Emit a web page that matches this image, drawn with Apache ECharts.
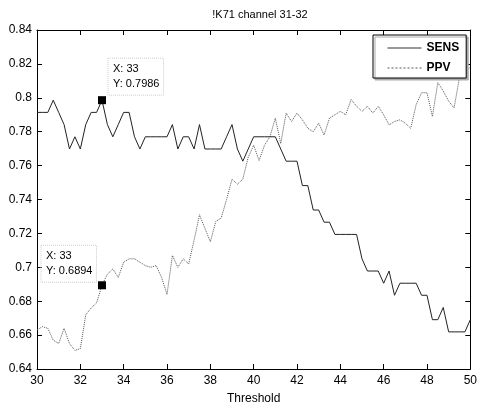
<!DOCTYPE html>
<html>
<head>
<meta charset="utf-8">
<script src="https://cdn.jsdelivr.net/npm/echarts@6/dist/echarts.min.js"></script>
<style>
  html, body { margin: 0; background: #fff; }
  #chart { width: 480px; height: 410px; }
</style>
</head>
<body>
<div id="chart"></div>
<script>
// threshold steps (x)
const thresholds = [
  30, 30.25, 30.5, 30.75, 31, 31.25, 31.5, 31.75, 32, 32.25, 32.5, 32.75,
  33, 33.25, 33.5, 33.75, 34, 34.25, 34.5, 34.75, 35, 35.25, 35.5, 35.75,
  36, 36.25, 36.5, 36.75, 37, 37.25, 37.5, 37.75, 38, 38.25, 38.5, 38.75,
  39, 39.25, 39.5, 39.75, 40, 40.25, 40.5, 40.75, 41, 41.25, 41.5, 41.75,
  42, 42.25, 42.5, 42.75, 43, 43.25, 43.5, 43.75, 44, 44.25, 44.5, 44.75,
  45, 45.25, 45.5, 45.75, 46, 46.25, 46.5, 46.75, 47, 47.25, 47.5, 47.75,
  48, 48.25, 48.5, 48.75, 49, 49.25, 49.5, 49.75, 50
];

const sens = [
  0.7914, 0.7914, 0.7914, 0.7986, 0.7914, 0.7842, 0.7698, 0.7770, 0.7698, 0.7842, 0.7914, 0.7914,
  0.7986, 0.7842, 0.7770, 0.7842, 0.7914, 0.7914, 0.7770, 0.7698, 0.7770, 0.7770, 0.7770, 0.7770,
  0.7770, 0.7842, 0.7698, 0.7770, 0.7770, 0.7698, 0.7842, 0.7698, 0.7698, 0.7698, 0.7698, 0.7770,
  0.7842, 0.7698, 0.7626, 0.7698, 0.7770, 0.7770, 0.7770, 0.7770, 0.7770, 0.7698, 0.7626, 0.7626,
  0.7626, 0.7482, 0.7482, 0.7338, 0.7338, 0.7266, 0.7266, 0.7194, 0.7194, 0.7194, 0.7194, 0.7194,
  0.7050, 0.6978, 0.6978, 0.6978, 0.6906, 0.6978, 0.6835, 0.6906, 0.6906, 0.6906, 0.6906, 0.6835,
  0.6835, 0.6691, 0.6691, 0.6763, 0.6619, 0.6619, 0.6619, 0.6619, 0.6691
];

const ppv = [
  0.663, 0.665, 0.664, 0.657, 0.655, 0.664, 0.655, 0.651, 0.652, 0.672, 0.676, 0.679,
  0.6894, 0.696, 0.699, 0.694, 0.703, 0.705, 0.705, 0.703, 0.701, 0.700, 0.701, 0.694,
  0.684, 0.707, 0.700, 0.705, 0.702, 0.716, 0.731, 0.723, 0.715, 0.727, 0.729, 0.740,
  0.752, 0.749, 0.752, 0.765, 0.772, 0.763, 0.772, 0.777, 0.788, 0.773, 0.791, 0.786,
  0.791, 0.787, 0.782, 0.780, 0.785, 0.778, 0.788, 0.790, 0.792, 0.790, 0.799, 0.795,
  0.792, 0.795, 0.791, 0.795, 0.790, 0.784, 0.786, 0.787, 0.785, 0.782, 0.796, 0.803,
  0.803, 0.789, 0.809, 0.804, 0.798, 0.794, 0.812, 0.815, 0.818
];

// data tips
const tipX = 33;
const sensTipY = 0.7986;
const ppvTipY = 0.6894;

const font = "Liberation Sans";

function pairs(ys) {
  return thresholds.map((x, i) => [x, ys[i]]);
}

function tipLabel(offset) {
  return {
    show: true,
    position: offset,
    formatter: (p) => "X: " + p.data.coord[0] + "\nY: " + p.data.coord[1],
    color: "#000",
    fontFamily: font,
    fontSize: 11,
    lineHeight: 15,
    align: "left",
    verticalAlign: "top",
    borderColor: "#ccc",
    borderWidth: 1,
    borderType: "dotted",
    padding: [3, 4, 4, 5]
  };
}

const chart = echarts.init(document.getElementById("chart"));

const axisCommon = {
  type: "value",
  axisLine: { show: true, lineStyle: { color: "#000", width: 1 } },
  axisTick: { show: true, inside: true, length: 5, lineStyle: { color: "#000" } },
  splitLine: { show: false }
};

chart.setOption({
  animation: false,
  backgroundColor: "#fff",
  title: {
    text: "!K71 channel 31-32",
    left: 255,
    top: 4,
    textAlign: "center",
    textStyle: { fontFamily: font, fontSize: 11, fontWeight: "normal", color: "#000" }
  },
  grid: { left: 37, right: 7, top: 30, bottom: 40 },
  legend: {
    left: 373,
    top: 35,
    orient: "vertical",
    data: [
      { name: "SENS", lineStyle: { width: 1, type: "solid", color: "#333" } },
      { name: "PPV", lineStyle: { width: 1, type: [2, 2], color: "#555" } }
    ],
    itemWidth: 34,
    itemHeight: 10,
    itemGap: 8,
    padding: [7, 7, 4, 14],
    backgroundColor: "#fff",
    borderColor: "#000",
    borderWidth: 1,
    borderRadius: 0,
    shadowColor: "#aaa",
    shadowOffsetX: 2,
    shadowOffsetY: 2,
    shadowBlur: 0,
    itemStyle: { opacity: 0 },
    textStyle: { fontFamily: font, fontSize: 12, fontWeight: "bold", color: "#000" }
  },
  xAxis: [
    Object.assign({}, axisCommon, {
      min: 30, max: 50, interval: 2,
      name: "Threshold",
      nameLocation: "middle",
      nameGap: 24,
      nameTextStyle: { fontFamily: font, fontSize: 12, color: "#000" },
      axisLabel: { margin: 6, fontFamily: font, fontSize: 12, color: "#000" }
    }),
    Object.assign({}, axisCommon, {
      position: "top",
      min: 30, max: 50, interval: 2,
      axisLabel: { show: false }
    })
  ],
  yAxis: [
    Object.assign({}, axisCommon, {
      min: 0.64, max: 0.84, interval: 0.02,
      axisLabel: {
        margin: 5, fontFamily: font, fontSize: 12, color: "#000",
        formatter: (v) => String(+v.toFixed(2))
      }
    }),
    Object.assign({}, axisCommon, {
      position: "right",
      min: 0.64, max: 0.84, interval: 0.02,
      axisLabel: { show: false }
    })
  ],
  series: [
    {
      name: "SENS",
      type: "line",
      data: pairs(sens),
      symbol: "none",
      lineStyle: { color: "#222", width: 1, type: "solid" },
      itemStyle: { color: "#222" },
      z: 3,
      markPoint: {
        symbol: "rect",
        symbolSize: 8,
        itemStyle: { color: "#000" },
        data: [{ coord: [tipX, sensTipY], label: tipLabel([10, -38]) }]
      }
    },
    {
      name: "PPV",
      type: "line",
      data: pairs(ppv),
      symbol: "none",
      lineStyle: { color: "#555", width: 1, type: "dotted" },
      itemStyle: { color: "#555" },
      z: 2,
      markPoint: {
        symbol: "rect",
        symbolSize: 8,
        itemStyle: { color: "#000" },
        data: [{ coord: [tipX, ppvTipY], label: tipLabel([-57, -36]) }]
      }
    }
  ]
});
</script>
</body>
</html>
